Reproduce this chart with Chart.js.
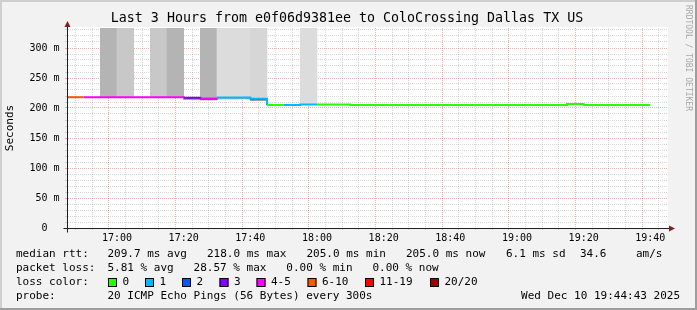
<!DOCTYPE html>
<html>
<head>
<meta charset="utf-8">
<title>Last 3 Hours from e0f06d9381ee to ColoCrossing Dallas TX US</title>
<script src="https://cdn.jsdelivr.net/npm/chart.js@4.4.1/dist/chart.umd.min.js"></script>
<style>
  html, body { margin: 0; padding: 0; background: #f2f2f2; }
  canvas { display: block; }
</style>
</head>
<body>
<canvas id="myChart" width="697" height="310"></canvas>
<script>
// 5 minute slots (start times), the last one ends at endSlot
const slots = ['16:45','16:50','16:55','17:00','17:05','17:10','17:15','17:20','17:25','17:30',
               '17:35','17:40','17:45','17:50','17:55','18:00','18:05','18:10','18:15','18:20',
               '18:25','18:30','18:35','18:40','18:45','18:50','18:55','19:00','19:05','19:10',
               '19:15','19:20','19:25','19:30','19:35'];
const endSlot = '19:40';
const viewStart = '16:45';
const viewEnd = '19:45';

// median rtt in ms per slot
const medianRtt = [218, 218, 218, 218, 218, 218, 218, 217, 216, 217.5,
                   217.5, 215.5, 205, 205, 206, 206, 206, 205, 205, 205,
                   205, 205, 205, 205, 205, 205, 205, 205, 205, 205,
                   206.5, 205, 205, 205, 205];
// index into lossLabels per slot
const lossBucket = [5, 4, 4, 4, 4, 4, 4, 3, 4, 1,
                    1, 1, 0, 1, 1, 0, 0, 0, 0, 0,
                    0, 0, 0, 0, 0, 0, 0, 0, 0, 0,
                    0, 0, 0, 0, 0];
// smoke: tall part starts here (ms) and runs off the top, near part is [lo, hi]
const smokeFrom = [null, null, 218, 218, null, 218, 218, null, 216, 217.5,
                   217.5, 215.5, null, null, 206, null, null, null, null, null,
                   null, null, null, null, null, null, null, null, null, null,
                   null, null, null, null, null];
const smokeNear = [null, null, null, null, null, null, null, [214.5, 217], [213.5, 216], [215, 217.5],
                   [215, 217.5], [213, 215.5], null, null, null, null, null, null, null, null,
                   null, null, null, null, null, null, null, null, null, null,
                   null, null, null, null, null];
const smokeCeil = 340;

const lossLabels = ['0', '1', '2', '3', '4-5', '6-10', '11-19', '20/20'];
const xTickLabels = ['17:00','17:20','17:40','18:00','18:20','18:40','19:00','19:20','19:40'];
const yTickLabels = [0, 50, 100, 150, 200, 250, 300];

const rttStats = ['209.7 ms avg', '218.0 ms max', '205.0 ms min', '205.0 ms now', '6.1 ms sd', '34.6', 'am/s'];
const lossStats = ['5.81 % avg', '28.57 % max', '0.00 % min', '0.00 % now'];
const probeText = '20 ICMP Echo Pings (56 Bytes) every 300s';
const stampText = 'Wed Dec 10 19:44:43 2025';
const titleText = 'Last 3 Hours from e0f06d9381ee to ColoCrossing Dallas TX US';

// styles
const lossColors = ['#26ff00', '#00b8ff', '#0059ff', '#7e00ff', '#ff00ff', '#ff5500', '#ff0000', '#a00000'];
const tallShade = [null, null, '#b4b4b4', '#c8c8c8', null, '#c8c8c8', '#b4b4b4', null, '#b4b4b4', '#dcdcdc',
                   '#dcdcdc', '#d6d6d6', null, null, '#dcdcdc'];
const nearShade = [null, null, null, null, null, null, null, '#6e6e6e', '#5a5a5a', '#a8a8a8',
                   '#a8a8a8', '#4a4a4a'];
const mono = '"DejaVu Sans Mono", monospace';
const minorGrid = 'rgba(143,143,143,0.35)';
const majorGrid = 'rgba(222,79,79,0.45)';
const axisColor = '#1f1f1f';
const arrowColor = '#801f1f';

const toMin = s => { const [h, m] = s.split(':').map(Number); return h * 60 + m; };
const fmt = m => Math.floor(m / 60) + ':' + String(m % 60).padStart(2, '0');
const xMin = toMin(viewStart), xMax = toMin(viewEnd);

const lineData = slots.map((s, i) => ({x: toMin(s), y: medianRtt[i]}))
  .concat([{x: toMin(endSlot), y: medianRtt[medianRtt.length - 1]}]);
const tallData = slots.map((s, i) => ({x: toMin(s) + 2.5, y: smokeFrom[i] == null ? null : [smokeFrom[i], smokeCeil]}));
const nearData = slots.map((s, i) => ({x: toMin(s) + 2.5, y: smokeNear[i]}));

const frame = {
  id: 'frame',
  beforeDraw(chart) {
    const {ctx, width, height, chartArea: a} = chart;
    ctx.save();
    ctx.fillStyle = '#f2f2f2';
    ctx.fillRect(0, 0, width, height);
    ctx.fillStyle = '#cfcfcf';
    ctx.fillRect(0, 0, width, 2);
    ctx.fillRect(0, 0, 2, height);
    ctx.fillStyle = '#9e9e9e';
    ctx.fillRect(0, height - 2, width, 2);
    ctx.fillRect(width - 2, 0, 2, height);
    ctx.fillStyle = '#ffffff';
    ctx.fillRect(a.left, a.top - 1, a.right - a.left + 1, a.bottom - a.top + 1);
    ctx.restore();
  }
};

const decor = {
  id: 'decor',
  afterDraw(chart) {
    const {ctx, chartArea: a} = chart;
    ctx.save();
    // title
    ctx.fillStyle = '#000';
    ctx.font = '13.3px ' + mono;
    ctx.textAlign = 'center';
    ctx.textBaseline = 'middle';
    ctx.fillText(titleText, 347, 19);
    // watermark
    ctx.save();
    ctx.translate(692, 5);
    ctx.rotate(Math.PI / 2);
    ctx.font = '8px ' + mono;
    ctx.fillStyle = '#a8a8a8';
    ctx.textAlign = 'left';
    ctx.textBaseline = 'top';
    ctx.fillText('RRDTOOL / TOBI OETIKER', 0, 0);
    ctx.restore();
    // axis extensions + arrows
    const bx = Math.round(a.left) + 0.5, by = Math.round(a.bottom) + 0.5;
    ctx.strokeStyle = axisColor;
    ctx.lineWidth = 1;
    ctx.beginPath();
    ctx.moveTo(bx - 4, by); ctx.lineTo(a.right + 3, by);
    ctx.moveTo(bx, by + 4); ctx.lineTo(bx, a.top - 4);
    ctx.stroke();
    ctx.fillStyle = arrowColor;
    ctx.beginPath();
    ctx.moveTo(a.right + 2, by - 3); ctx.lineTo(a.right + 2, by + 3); ctx.lineTo(a.right + 8, by);
    ctx.closePath(); ctx.fill();
    ctx.beginPath();
    ctx.moveTo(bx - 3, a.top - 1); ctx.lineTo(bx + 3, a.top - 1); ctx.lineTo(bx, a.top - 7);
    ctx.closePath(); ctx.fill();
    // legend
    ctx.fillStyle = '#000';
    ctx.font = '11px ' + mono;
    ctx.textAlign = 'left';
    ctx.textBaseline = 'middle';
    const rows = [254.5, 268.5, 282.5, 296.5];
    ctx.fillText('median rtt:', 16, rows[0]);
    const rttX = [107.5, 207, 306.5, 406, 506, 580, 636];
    rttStats.forEach((t, i) => ctx.fillText(t, rttX[i], rows[0]));
    ctx.fillText('packet loss:', 16, rows[1]);
    const lossX = [107.5, 193.6, 286.3, 372.4];
    lossStats.forEach((t, i) => ctx.fillText(t, lossX[i], rows[1]));
    ctx.fillText('loss color:', 16, rows[2]);
    const swatchX = [108, 145, 182, 219.5, 256.5, 307.5, 365, 430];
    lossLabels.forEach((t, i) => {
      ctx.fillStyle = lossColors[i];
      ctx.fillRect(swatchX[i], rows[2] - 4.5, 9, 9);
      ctx.strokeStyle = '#000';
      ctx.strokeRect(swatchX[i] + 0.5, rows[2] - 4, 8, 8);
      ctx.fillStyle = '#000';
      ctx.fillText(t, swatchX[i] + 14.5, rows[2]);
    });
    ctx.fillText('probe:', 16, rows[3]);
    ctx.fillText(probeText, 107.5, rows[3]);
    ctx.textAlign = 'right';
    ctx.fillText(stampText, 680, rows[3]);
    ctx.restore();
  }
};

Chart.defaults.font.family = mono;
Chart.defaults.color = '#000';

const ctx = document.getElementById('myChart').getContext('2d');
const myChart = new Chart(ctx, {
    type: 'line',
    data: {
        datasets: [{
            label: 'median rtt',
            data: lineData,
            stepped: true,
            borderWidth: 2,
            pointRadius: 0,
            borderCapStyle: 'butt',
            segment: {
                borderColor: c => lossColors[lossBucket[c.p0DataIndex]]
            },
            order: 0
        }, {
            type: 'bar',
            label: 'smoke near',
            data: nearData,
            backgroundColor: nearData.map((d, i) => nearShade[i] || 'transparent'),
            grouped: false,
            barPercentage: 1,
            categoryPercentage: 1,
            borderWidth: 0,
            order: 1
        }, {
            type: 'bar',
            label: 'smoke',
            data: tallData,
            backgroundColor: tallData.map((d, i) => tallShade[i] || 'transparent'),
            grouped: false,
            barPercentage: 1,
            categoryPercentage: 1,
            borderWidth: 0,
            order: 2
        }]
    },
    options: {
        responsive: false,
        animation: false,
        devicePixelRatio: 1,
        layout: { padding: { top: 28, right: 30, left: 0, bottom: 0 } },
        plugins: { legend: { display: false }, tooltip: { enabled: false } },
        scales: {
            x: {
                type: 'linear',
                min: xMin,
                max: xMax,
                offset: false,
                afterBuildTicks: s => {
                    s.ticks = [];
                    for (let m = xMin; m <= xMax; m += 5) s.ticks.push({value: m});
                },
                afterFit: s => { s.height = 82; },
                grid: {
                    color: c => (c.tick && xTickLabels.includes(fmt(c.tick.value))) ? majorGrid : minorGrid,
                    lineWidth: 1,
                    tickLength: 2
                },
                border: { display: true, color: axisColor, width: 1, dash: [1, 1] },
                ticks: {
                    autoSkip: false,
                    maxRotation: 0,
                    padding: 2,
                    font: { size: 10 },
                    callback: v => xTickLabels.includes(fmt(v)) ? fmt(v) : ''
                }
            },
            y: {
                min: 0,
                max: 1000 / 3,
                afterBuildTicks: s => {
                    s.ticks = [];
                    for (let v = 0; v <= 330; v += 10) s.ticks.push({value: v});
                },
                afterFit: s => { s.width = 67; },
                grid: {
                    color: c => (c.tick && yTickLabels.includes(c.tick.value)) ? majorGrid : minorGrid,
                    lineWidth: 1,
                    tickLength: 2
                },
                border: { display: true, color: axisColor, width: 1, dash: [1, 1] },
                ticks: {
                    autoSkip: false,
                    padding: 5.5,
                    font: { size: 10 },
                    callback: v => yTickLabels.includes(v) ? (v === 0 ? '0  ' : v + ' m') : ''
                },
                title: {
                    display: true,
                    text: 'Seconds',
                    font: { size: 11 },
                    padding: { top: 4, bottom: 0 }
                }
            }
        }
    },
    plugins: [frame, decor]
});
</script>
</body>
</html>
